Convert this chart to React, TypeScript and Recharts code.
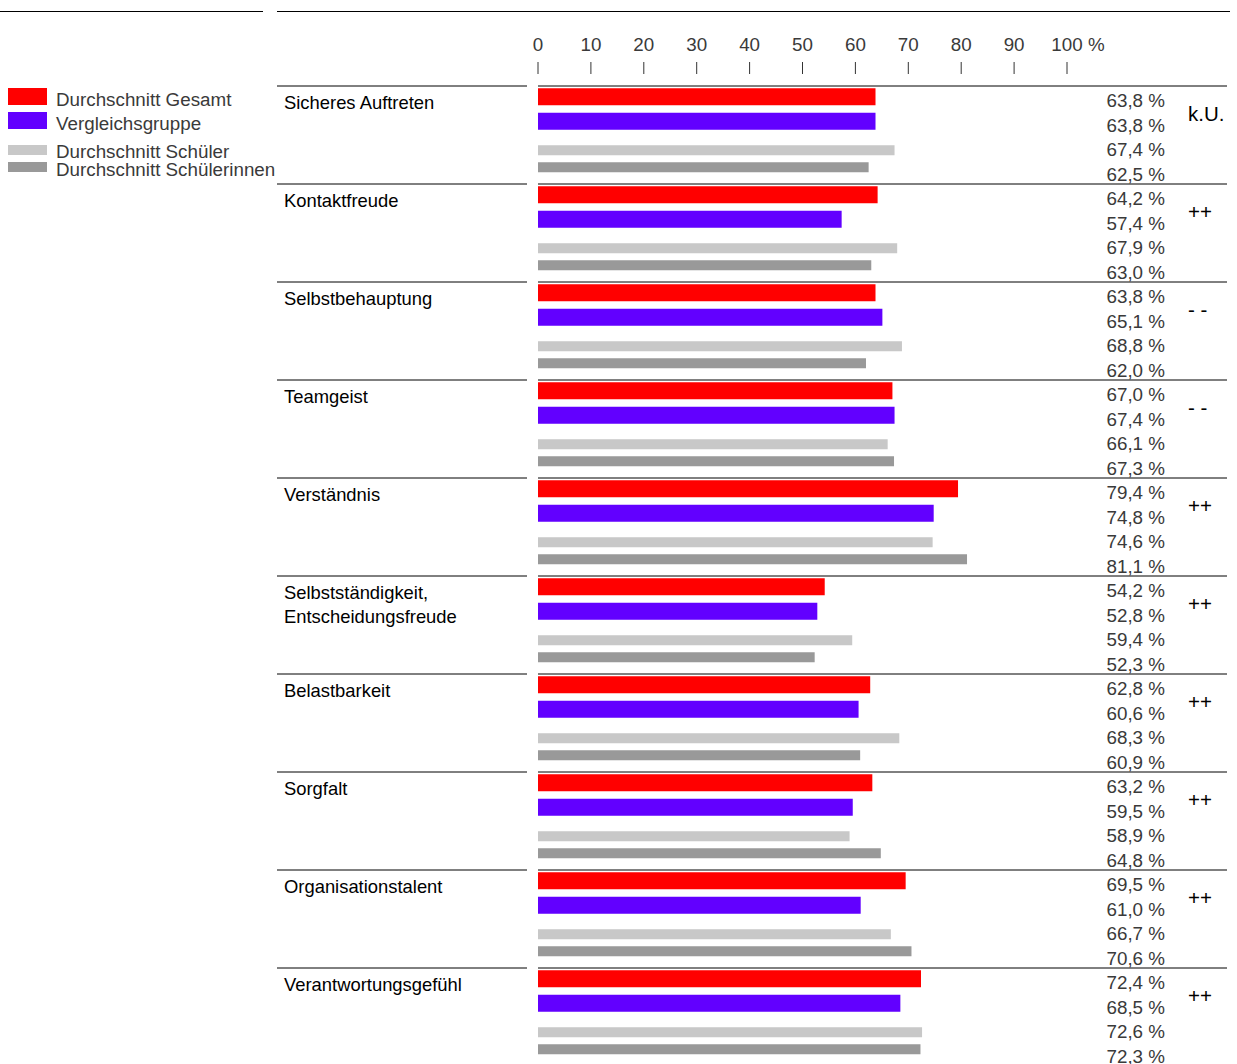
import React from "react";
import { BarChart, Bar, XAxis, YAxis, LabelList } from "recharts";

const categories = [
  ["Sicheres Auftreten"],
  ["Kontaktfreude"],
  ["Selbstbehauptung"],
  ["Teamgeist"],
  ["Verständnis"],
  ["Selbstständigkeit,", "Entscheidungsfreude"],
  ["Belastbarkeit"],
  ["Sorgfalt"],
  ["Organisationstalent"],
  ["Verantwortungsgefühl"],
];
const gesamt = [63.8, 64.2, 63.8, 67.0, 79.4, 54.2, 62.8, 63.2, 69.5, 72.4];
const vergleich = [63.8, 57.4, 65.1, 67.4, 74.8, 52.8, 60.6, 59.5, 61.0, 68.5];
const schueler = [67.4, 67.9, 68.8, 66.1, 74.6, 59.4, 68.3, 58.9, 66.7, 72.6];
const schuelerinnen = [62.5, 63.0, 62.0, 67.3, 81.1, 52.3, 60.9, 64.8, 70.6, 72.3];
const markers = ["k.U.", "++", "- -", "- -", "++", "++", "++", "++", "++", "++"];
const ticks = [0, 10, 20, 30, 40, 50, 60, 70, 80, 90, 100];

const series = [
  { name: "Durchschnitt Gesamt", values: gesamt, color: "#ff0000", h: 17, dy: -1.75 },
  { name: "Vergleichsgruppe", values: vergleich, color: "#6200ff", h: 17, dy: -1.75 },
  { name: "Durchschnitt Schüler", values: schueler, color: "#c8c8c8", h: 10, dy: 2.75 },
  { name: "Durchschnitt Schülerinnen", values: schuelerinnen, color: "#999999", h: 10, dy: -4.75 },
];

const rows = categories.flatMap((_, ci) =>
  series.map((s, si) => ({ id: `${ci}-${si}`, ci, si, value: s.values[ci] }))
);

const LIGHT = "'Liberation Sans', Arial, sans-serif";
const LIGHT_SIZE = 18.8;
const fmt = (v: number) => `${v.toFixed(1).replace(".", ",")} %`;
const BAND = 24.5;

const BarShape = (props: any) => {
  const { x, y, width, height, payload } = props;
  const s = series[payload.si];
  const cy = y + height / 2 + s.dy;
  return <rect x={x} y={cy - s.h / 2} width={Math.max(width, 0)} height={s.h} fill={s.color} />;
};

const ValueLabel = (props: any) => {
  const { x, y, height, index } = props;
  const r = rows[index];
  return (
    <text x={x + 627} y={y + height / 2 + 2} dy="0.36em" textAnchor="end" fontFamily={LIGHT} fontSize={LIGHT_SIZE} fill="#3a3a3a">
      {fmt(r.value)}
    </text>
  );
};

const XTick = (props: any) => {
  const { x, payload } = props;
  return (
    <g>
      <text x={x} y={51} textAnchor="middle" fontFamily={LIGHT} fontSize={LIGHT_SIZE} fill="#3a3a3a">
        {payload.value}
      </text>
      {payload.value === 100 && (
        <text x={x + 21} y={51} textAnchor="start" fontFamily={LIGHT} fontSize={LIGHT_SIZE} fill="#3a3a3a">
          %
        </text>
      )}
      <line x1={x} x2={x} y1={62} y2={74} stroke="#333" strokeWidth={1} />
    </g>
  );
};

const YTick = (props: any) => {
  const { y, payload } = props;
  const [ci, si] = String(payload.value).split("-").map(Number);
  if (si !== 0) return <g />;
  const top = y - BAND / 2;
  return (
    <g>
      <line x1={277} x2={527} y1={top} y2={top} stroke="#000" strokeWidth={1} />
      <line x1={538} x2={1227} y1={top} y2={top} stroke="#000" strokeWidth={1} />
      <text x={284} y={top + 16} fontFamily="'Liberation Sans', Arial, sans-serif" fontSize={18.4} fill="#000">
        {categories[ci].map((line, i) => (
          <tspan key={i} x={284} dy={i === 0 ? "0.36em" : 24}>
            {line}
          </tspan>
        ))}
      </text>
      <text x={1188} y={top + 28} dy="0.36em" fontFamily="'Liberation Sans', Arial, sans-serif" fontSize={20.5} fill="#000">
        {markers[ci]}
      </text>
    </g>
  );
};

const legendBoxTops = [88, 112, 145, 162];
const legendTextCenters = [100, 124, 152, 170];

export default function App() {
  return (
    <div style={{ position: "absolute", left: 0, top: 0, width: 1237, height: 1064, overflow: "hidden", background: "#fff" }}>
      <div style={{ position: "absolute", left: 0, top: 11, width: 263, height: 1, background: "#000" }} />
      <div style={{ position: "absolute", left: 277, top: 11, width: 953, height: 1, background: "#000" }} />
      {series.map((s, i) => (
        <div key={s.name}>
          <div style={{ position: "absolute", left: 8, top: legendBoxTops[i], width: 39, height: s.h, background: s.color }} />
          <div
            style={{
              position: "absolute",
              left: 56,
              top: legendTextCenters[i] - 11,
              fontFamily: LIGHT,
              fontSize: LIGHT_SIZE,
              lineHeight: "22px",
              color: "#3a3a3a",
              whiteSpace: "nowrap",
            }}
          >
            {s.name}
          </div>
        </div>
      ))}
      <div style={{ position: "absolute", left: 0, top: 0 }}>
        <BarChart
          width={1237}
          height={1066}
          data={rows}
          layout="vertical"
          margin={{ top: 0, right: 170, bottom: 0, left: 0 }}
          barCategoryGap={0}
        >
          <XAxis
            type="number"
            orientation="top"
            domain={[0, 100]}
            ticks={ticks}
            height={86}
            axisLine={false}
            tickLine={false}
            tick={<XTick />}
            interval={0}
          />
          <YAxis
            type="category"
            dataKey="id"
            width={538}
            axisLine={false}
            tickLine={false}
            tick={<YTick />}
            interval={0}
          />
          <Bar dataKey="value" shape={<BarShape />} isAnimationActive={false}>
            <LabelList dataKey="value" content={<ValueLabel />} />
          </Bar>
        </BarChart>
      </div>
    </div>
  );
}
